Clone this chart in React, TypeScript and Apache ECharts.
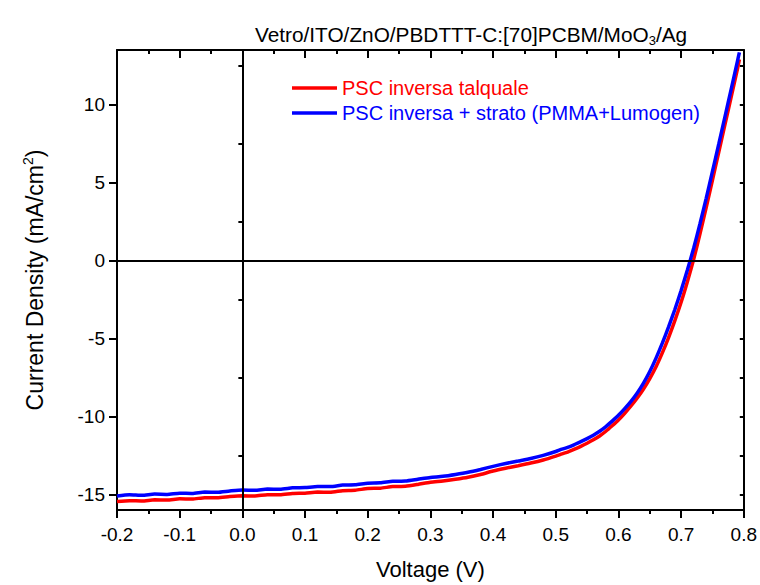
import React, { useEffect, useRef } from "react";
import * as echarts from "echarts";

const voltage = [
  -0.2, -0.18, -0.16, -0.14, -0.12, -0.1, -0.08, -0.06, -0.04, -0.02,
  0.0, 0.02, 0.04, 0.06, 0.08, 0.1, 0.12, 0.14, 0.16, 0.18,
  0.2, 0.22, 0.24, 0.26, 0.28, 0.3, 0.32, 0.34, 0.36, 0.38,
  0.4, 0.42, 0.44, 0.46, 0.48, 0.5,
  0.51, 0.52, 0.53, 0.54, 0.55, 0.56, 0.57, 0.58, 0.59, 0.6,
  0.61, 0.62, 0.63, 0.64, 0.65, 0.66, 0.67, 0.68, 0.69, 0.7,
  0.71, 0.72, 0.73, 0.74, 0.75, 0.76, 0.77, 0.78, 0.79, 0.793,
];

const talquale = [
  -15.46, -15.4, -15.42, -15.35, -15.36, -15.28, -15.3, -15.21, -15.22, -15.14,
  -15.09, -15.1, -15.02, -15.03, -14.94, -14.92, -14.85, -14.86, -14.76, -14.73,
  -14.62, -14.6, -14.5, -14.48, -14.36, -14.22, -14.14, -14.03, -13.9, -13.72,
  -13.5, -13.32, -13.16, -12.99, -12.79, -12.54,
  -12.4, -12.27, -12.1, -11.92, -11.72, -11.5, -11.25, -10.95, -10.6, -10.23,
  -9.8, -9.33, -8.82, -8.24, -7.57, -6.81, -5.92, -4.94, -3.86, -2.68,
  -1.36, 0.07, 1.69, 3.39, 5.16, 6.94, 8.73, 10.51, 12.31, 12.9,
];

const strato = [
  -15.1, -15.02, -15.06, -14.98, -15.0, -14.92, -14.94, -14.85, -14.86, -14.78,
  -14.72, -14.74, -14.66, -14.67, -14.58, -14.56, -14.5, -14.5, -14.4, -14.38,
  -14.28, -14.26, -14.16, -14.14, -14.03, -13.92, -13.84, -13.72, -13.58, -13.4,
  -13.2, -13.02, -12.86, -12.7, -12.5, -12.25,
  -12.1, -11.97, -11.8, -11.62, -11.42, -11.2, -10.95, -10.65, -10.3, -9.93,
  -9.5, -9.03, -8.49, -7.86, -7.12, -6.26, -5.3, -4.26, -3.14, -1.93,
  -0.61, 0.79, 2.34, 3.99, 5.71, 7.46, 9.23, 11.01, 12.81, 13.35,
];

const yMajorTicks = [-15, -10, -5, 0, 5, 10];
const yMinorTicks = [-12.5, -7.5, -2.5, 2.5, 7.5, 12.5];
const yAllTicks = [-15, -12.5, -10, -7.5, -5, -2.5, 0, 2.5, 5, 7.5, 10, 12.5];

const seriesNames = ["PSC inversa talquale", "PSC inversa + strato (PMMA+Lumogen)"];
const seriesColors = ["#ff0000", "#0000ff"];

const FONT = "Liberation Sans, Arial, sans-serif";
const AXW = 2;

export default function App() {
  const ref = useRef<HTMLDivElement>(null);

  useEffect(() => {
    document.body.style.margin = "0";
    if (!ref.current) return;
    const chart = echarts.init(ref.current, null, { renderer: "svg" });

    const pairs = (ys: number[]) => voltage.map((v, i) => [v, ys[i]]);

    const baseY = {
      type: "value",
      min: -16,
      max: 13.5,
      splitLine: { show: false },
    };

    const option: any = {
      animation: false,
      backgroundColor: "#ffffff",
      textStyle: { fontFamily: FONT },
      title: {
        text: "{a|Vetro/ITO/ZnO/PBDTTT-C:[70]PCBM/MoO}{s|3}{a|/Ag}",
        left: 250,
        top: 16,
        textStyle: {
          fontSize: 21,
          fontWeight: "normal",
          color: "#000",
          fontFamily: FONT,
          rich: {
            a: { fontSize: 20.8, lineHeight: 26, fontWeight: "normal", color: "#000", fontFamily: FONT },
            s: {
              fontSize: 13,
              lineHeight: 13,
              fontWeight: "normal",
              color: "#000",
              fontFamily: FONT,
              verticalAlign: "bottom",
              padding: [12, 0, 0, 0],
            },
          },
        },
      },
      legend: {
        left: 287,
        top: 73,
        orient: "vertical",
        icon: "rect",
        itemWidth: 45,
        itemHeight: 3.5,
        itemGap: 5,
        textStyle: { fontSize: 20, lineHeight: 20, fontFamily: FONT },
        data: [
          { name: seriesNames[0], textStyle: { color: seriesColors[0] } },
          { name: seriesNames[1], textStyle: { color: seriesColors[1] } },
        ],
      },
      grid: { left: 117, right: 14, top: 50, bottom: 75, containLabel: false },
      xAxis: [
        {
          type: "value",
          min: -0.2,
          max: 0.8,
          interval: 0.1,
          position: "bottom",
          name: "Voltage (V)",
          nameLocation: "middle",
          nameGap: 48,
          nameTextStyle: { fontSize: 22, color: "#000", fontFamily: FONT },
          axisLine: { show: true, onZero: false, lineStyle: { color: "#000", width: AXW } },
          axisTick: { show: true, inside: false, length: 8, lineStyle: { color: "#000", width: AXW } },
          minorTick: { show: true, splitNumber: 2, length: 4, lineStyle: { color: "#000", width: AXW } },
          axisLabel: {
            fontSize: 19,
            color: "#000",
            margin: 15,
            fontFamily: FONT,
            formatter: (v: number) => v.toFixed(1),
          },
          splitLine: { show: false },
        },
        {
          type: "value",
          min: -0.2,
          max: 0.8,
          interval: 0.1,
          position: "top",
          axisLine: { show: true, onZero: false, lineStyle: { color: "#000", width: AXW } },
          axisTick: { show: true, inside: true, length: 8, lineStyle: { color: "#000", width: AXW } },
          minorTick: { show: true, splitNumber: 2, length: 4, lineStyle: { color: "#000", width: AXW } },
          axisLabel: { show: false },
          splitLine: { show: false },
        },
      ],
      yAxis: [
        {
          ...baseY,
          position: "left",
          name: "Current Density (mA/cm{sup|2})",
          nameLocation: "middle",
          nameGap: 68,
          nameTextStyle: {
            fontSize: 23,
            lineHeight: 28,
            color: "#000",
            fontFamily: FONT,
            rich: {
              sup: {
                fontSize: 14,
                lineHeight: 14,
                color: "#000",
                fontFamily: FONT,
                verticalAlign: "top",
              },
            },
          },
          axisLine: { show: true, onZero: false, lineStyle: { color: "#000", width: AXW } },
          axisTick: {
            show: true,
            inside: false,
            length: 8,
            customValues: yMajorTicks,
            lineStyle: { color: "#000", width: AXW },
          },
          axisLabel: {
            fontSize: 19,
            color: "#000",
            margin: 12,
            fontFamily: FONT,
            customValues: yMajorTicks,
          },
        },
        {
          ...baseY,
          position: "left",
          axisLine: { show: false },
          axisTick: {
            show: true,
            inside: false,
            length: 4,
            customValues: yMinorTicks,
            lineStyle: { color: "#000", width: AXW },
          },
          axisLabel: { show: false },
        },
        {
          ...baseY,
          position: "right",
          axisLine: { show: true, onZero: false, lineStyle: { color: "#000", width: AXW } },
          axisTick: {
            show: true,
            inside: true,
            length: 4,
            customValues: yAllTicks,
            lineStyle: { color: "#000", width: AXW },
          },
          axisLabel: { show: false },
        },
      ],
      series: [
        {
          name: "zero",
          type: "line",
          data: [],
          z: 1,
          silent: true,
          markLine: {
            silent: true,
            symbol: ["none", "none"],
            label: { show: false },
            lineStyle: { color: "#000", width: AXW, type: "solid" },
            emphasis: { disabled: true },
            data: [{ xAxis: 0 }, { yAxis: 0 }],
          },
        },
        {
          name: seriesNames[0],
          type: "line",
          data: pairs(talquale),
          symbol: "none",
          smooth: 0.2,
          z: 3,
          lineStyle: { color: seriesColors[0], width: 3.5 },
          itemStyle: { color: seriesColors[0] },
        },
        {
          name: seriesNames[1],
          type: "line",
          data: pairs(strato),
          symbol: "none",
          smooth: 0.2,
          z: 4,
          lineStyle: { color: seriesColors[1], width: 3.5 },
          itemStyle: { color: seriesColors[1] },
        },
      ],
    };

    chart.setOption(option);
    return () => chart.dispose();
  }, []);

  return <div ref={ref} style={{ width: 760, height: 585 }} />;
}
